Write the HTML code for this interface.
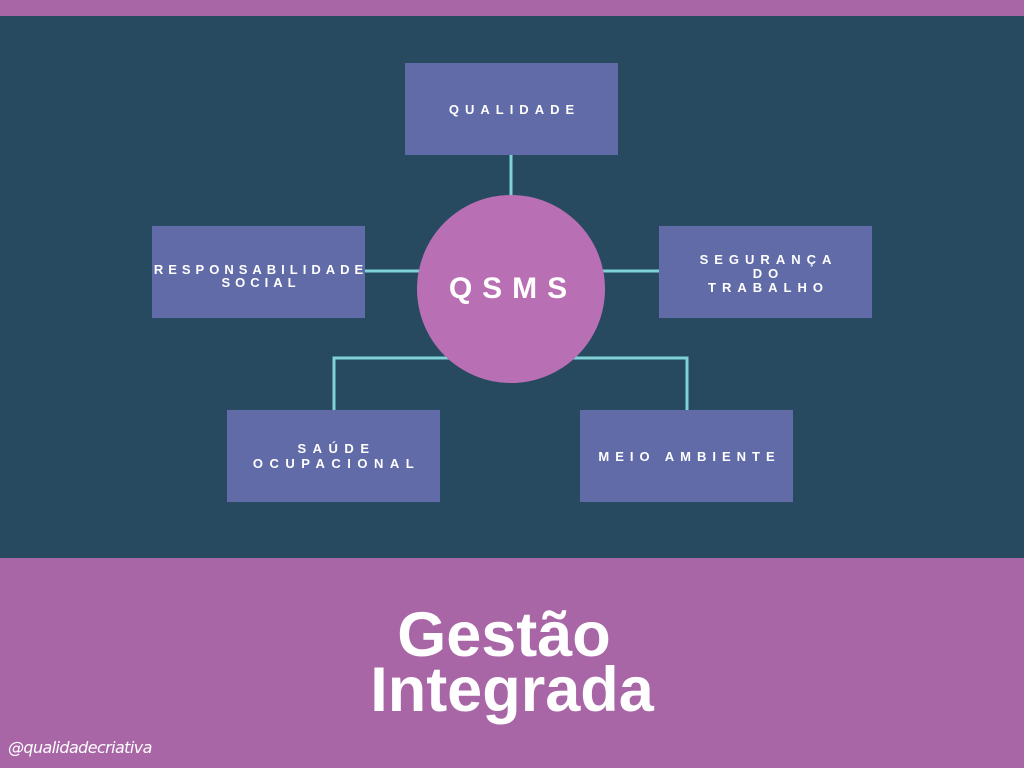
<!DOCTYPE html>
<html><head><meta charset="utf-8"><style>
body{margin:0;width:1024px;height:768px;background:#a866a6;position:relative;overflow:hidden;font-family:"Liberation Sans",sans-serif}
.dark{position:absolute;left:0;top:16px;width:1024px;height:542px;background:#274a60}
.box{position:absolute;width:213px;height:92px;background:#616ba8;color:#fff;font-weight:bold;font-size:13px;letter-spacing:6px;padding-left:6px;display:flex;align-items:center;justify-content:center;text-align:center;line-height:14px;box-sizing:border-box;white-space:nowrap}
.t{position:absolute;left:0;width:1024px;text-align:center;color:#fff;font-weight:bold;font-size:63px;line-height:56px}
</style></head><body>
<div class="dark"></div>
<svg width="1024" height="768" style="position:absolute;left:0;top:0">
<g stroke="#7fd3d8" stroke-width="3" fill="none">
<line x1="511" y1="155" x2="511" y2="200"/>
<line x1="365" y1="271" x2="422" y2="271"/>
<line x1="600" y1="271" x2="659" y2="271"/>
<polyline points="334,410 334,358 455,358"/>
<polyline points="565,358 687,358 687,410"/>
</g>
<ellipse cx="511" cy="289" rx="94" ry="94" fill="#b96fb3"/>
<text x="513" y="298" fill="#fff" font-family="Liberation Sans" font-weight="bold" font-size="30" text-anchor="middle" letter-spacing="10">QSMS</text>
</svg>
<div class="box" style="left:405px;top:63px;padding-top:2px">QUALIDADE</div>
<div class="box" style="left:152px;top:226px;padding-bottom:0px;padding-top:8px;letter-spacing:5px;padding-left:5px;line-height:13px">RESPONSABILIDADE<br>SOCIAL</div>
<div class="box" style="left:659px;top:226px;padding-bottom:0px;padding-top:3px">SEGURANÇA<br>DO<br>TRABALHO</div>
<div class="box" style="left:227px;top:410px;padding-bottom:0px;line-height:15px;letter-spacing:6.5px">SAÚDE<br>OCUPACIONAL</div>
<div class="box" style="left:580px;top:410px;padding-top:2px">MEIO AMBIENTE</div>
<div class="t" style="top:607px;left:-8px">Gestão</div>
<div class="t" style="top:662px">Integrada</div>
<div style="position:absolute;left:8px;top:738px;color:#fff;font-size:16px;font-style:italic;letter-spacing:-0.6px;font-family:'DejaVu Sans',sans-serif">@qualidadecriativa</div>
</body></html>
